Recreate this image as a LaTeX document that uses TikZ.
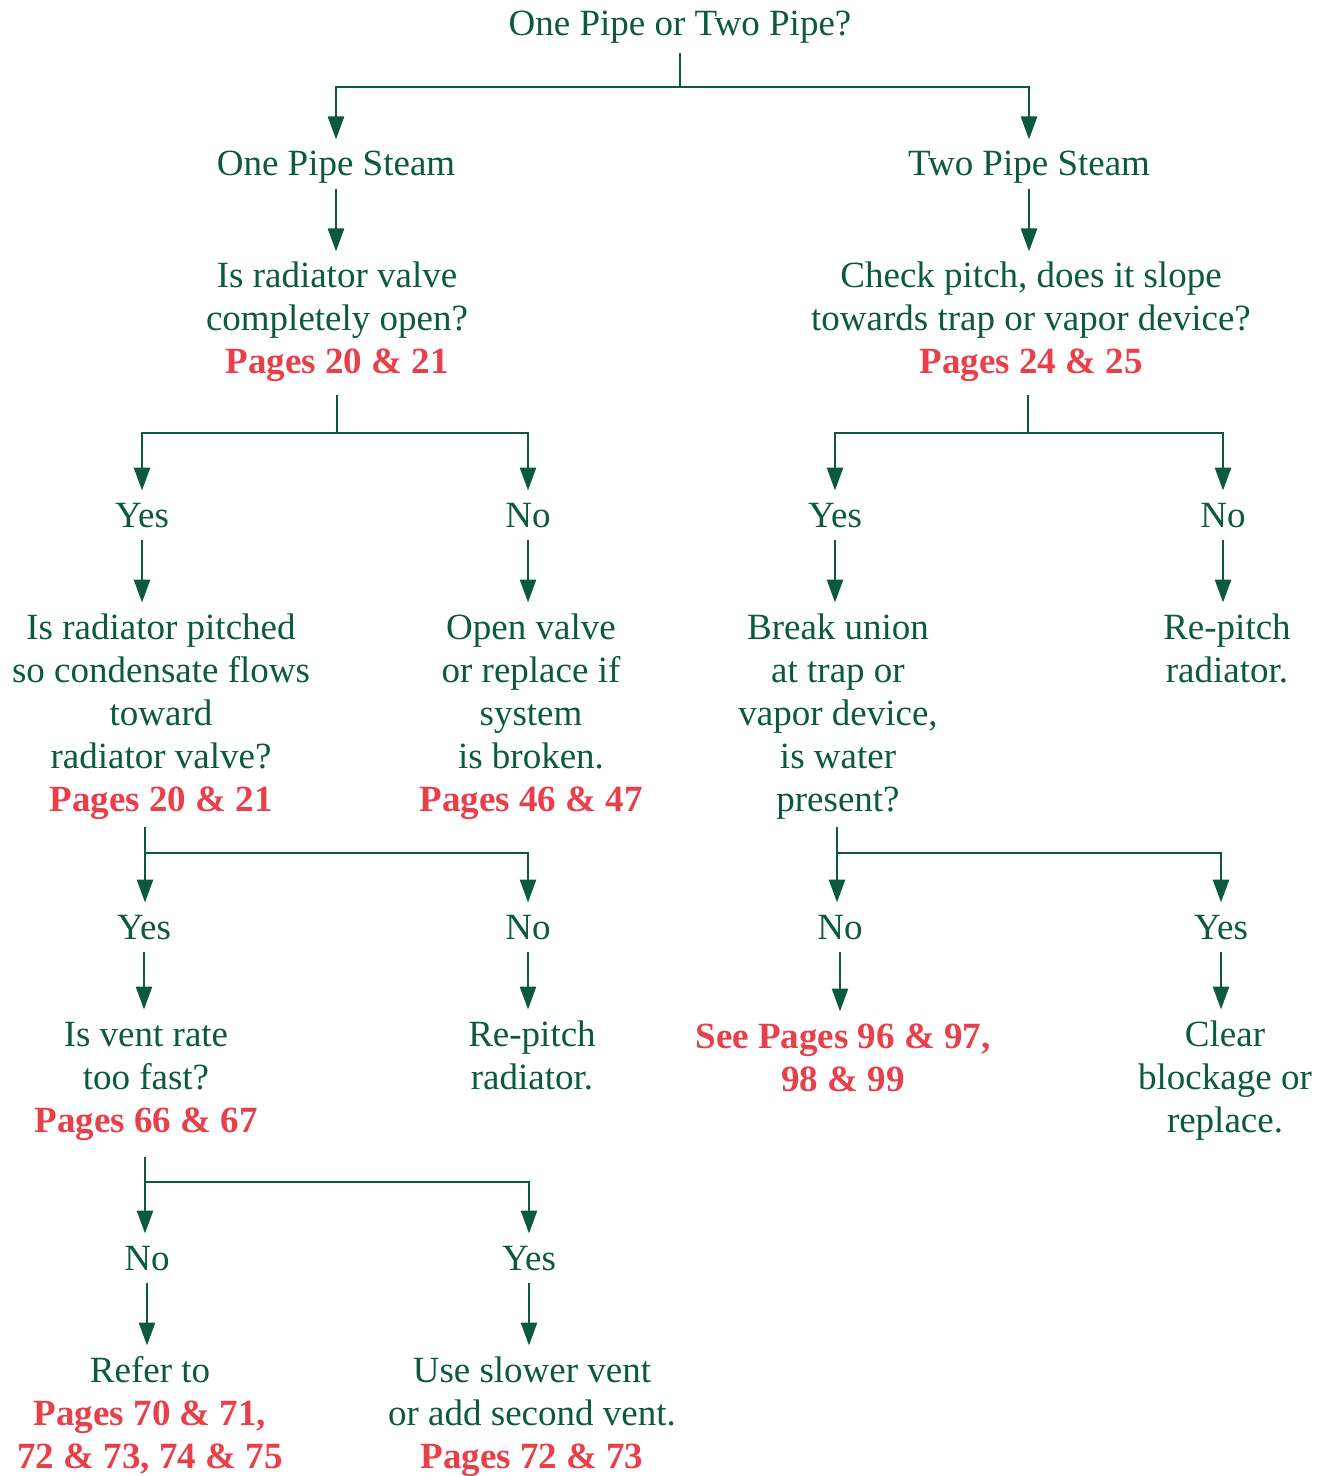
\documentclass[tikz,border=0pt]{standalone}
\usepackage{fontspec}
\setmainfont{Liberation Serif}
\usetikzlibrary{arrows.meta}
\definecolor{flowgreen}{HTML}{0B5A3D}
\definecolor{pagered}{HTML}{E8404A}
\newcommand\pgref[1]{\textcolor{pagered}{\bfseries #1}}
% centred lines, baseline at the first line, each line a full strut high
\newcommand\lines[1]{\begin{tabular}[t]{@{}c@{}}#1\end{tabular}}
\tikzset{
  txt/.style={anchor=base, inner sep=0pt,
    font=\fontsize{18.5}{21.5}\selectfont, text=flowgreen},
  link/.style={draw=flowgreen, line width=1.4pt},
  arr/.style={link, -{Triangle[width=8pt,length=11.5pt]}, shorten >=3pt},
}
\begin{document}
\begin{tikzpicture}[x=0.5pt, y=-0.5pt]
\useasboundingbox (0,0) rectangle (1321,1476);

% question and answer texts (positions are first-line baselines)
\node[txt] (top)  at (680,36)  {\lines{One Pipe or Two Pipe?}};
\node[txt] (one)  at (336,176) {\lines{One Pipe Steam}};
\node[txt] (two)  at (1029,176) {\lines{Two Pipe Steam}};
\node[txt] (q1)   at (337,288) {\lines{Is radiator valve\\completely open?\\\pgref{Pages 20 \& 21}}};
\node[txt] (q2)   at (1031,288) {\lines{Check pitch, does it slope\\towards trap or vapor device?\\\pgref{Pages 24 \& 25}}};
\node[txt] (yes1) at (142,527) {\lines{Yes}};
\node[txt] (no1)  at (528,527) {\lines{No}};
\node[txt] (yes2) at (835,527) {\lines{Yes}};
\node[txt] (no2)  at (1223,527) {\lines{No}};
\node[txt] (q3)   at (161,639) {\lines{Is radiator pitched\\so condensate flows\\toward\\radiator valve?\\\pgref{Pages 20 \& 21}}};
\node[txt] (a1)   at (531,639) {\lines{Open valve\\or replace if\\system\\is broken.\\\pgref{Pages 46 \& 47}}};
\node[txt] (q4)   at (838,639) {\lines{Break union\\at trap or\\vapor device,\\is water\\present?}};
\node[txt] (a2)   at (1227,639) {\lines{Re-pitch\\radiator.}};
\node[txt] (yes3) at (144,939) {\lines{Yes}};
\node[txt] (no3)  at (528,939) {\lines{No}};
\node[txt] (no4)  at (840,939) {\lines{No}};
\node[txt] (yes4) at (1221,939) {\lines{Yes}};
\node[txt] (q5)   at (146,1046) {\lines{Is vent rate\\too fast?\\\pgref{Pages 66 \& 67}}};
\node[txt] (a3)   at (532,1046) {\lines{Re-pitch\\radiator.}};
\node[txt] (a4)   at (843,1048) {\lines{\pgref{See Pages 96 \& 97,}\\\pgref{98 \& 99}}};
\node[txt] (a5)   at (1225,1046) {\lines{Clear\\blockage or\\replace.}};
\node[txt] (no5)  at (147,1270) {\lines{No}};
\node[txt] (yes5) at (529,1270) {\lines{Yes}};
\node[txt] (a6)   at (150,1382) {\lines{Refer to\\\pgref{Pages 70 \& 71,}\\\pgref{72 \& 73, 74 \& 75}}};
\node[txt] (a7)   at (532,1382) {\lines{Use slower vent\\or add second vent.\\\pgref{Pages 72 \& 73}}};

% branch points
\coordinate (j0) at (680,87);
\coordinate (j1) at (337,433);
\coordinate (j2) at (1028,433);
\coordinate (j3) at (145,853);
\coordinate (j4) at (837,853);
\coordinate (j5) at (145,1182);

% forks
\draw[link] ([yshift=-2pt]top.south) -- (j0);
\draw[arr] (j0) -| (one.north);
\draw[arr] (j0) -| (two.north);

\draw[link] ([yshift=-4pt]j1 |- q1.south) -- (j1);
\draw[arr] (j1) -| (yes1.north);
\draw[arr] (j1) -| (no1.north);
\draw[link] ([yshift=-4pt]j2 |- q2.south) -- (j2);
\draw[arr] (j2) -| (yes2.north);
\draw[arr] (j2) -| (no2.north);

\draw[link] ([yshift=-1.5pt]j3 |- q3.south) -- (j3);
\draw[arr] (j3) -- (j3 |- yes3.north);
\draw[arr] (j3) -| (no3.north);
\draw[link] ([yshift=-1.5pt]j4 |- q4.south) -- (j4);
\draw[arr] (j4) -- (j4 |- no4.north);
\draw[arr] (j4) -| (yes4.north);

\draw[link] ([yshift=-6pt]j5 |- q5.south) -- (j5);
\draw[arr] (j5) -- (j5 |- no5.north);
\draw[arr] (j5) -| (yes5.north);

% straight links
\draw[arr] (one.south) -- (one.south |- q1.north);
\draw[arr] (two.south) -- (two.south |- q2.north);
\draw[arr] (yes1.south) -- (yes1.south |- q3.north);
\draw[arr] (no1.south) -- (no1.south |- a1.north);
\draw[arr] (yes2.south) -- (yes2.south |- q4.north);
\draw[arr] (no2.south) -- (no2.south |- a2.north);
\draw[arr] (yes3.south) -- (yes3.south |- q5.north);
\draw[arr] (no3.south) -- (no3.south |- a3.north);
\draw[arr] (no4.south) -- (no4.south |- a4.north);
\draw[arr] (yes4.south) -- (yes4.south |- a5.north);
\draw[arr] (no5.south) -- (no5.south |- a6.north);
\draw[arr] (yes5.south) -- (yes5.south |- a7.north);
\end{tikzpicture}
\end{document}
